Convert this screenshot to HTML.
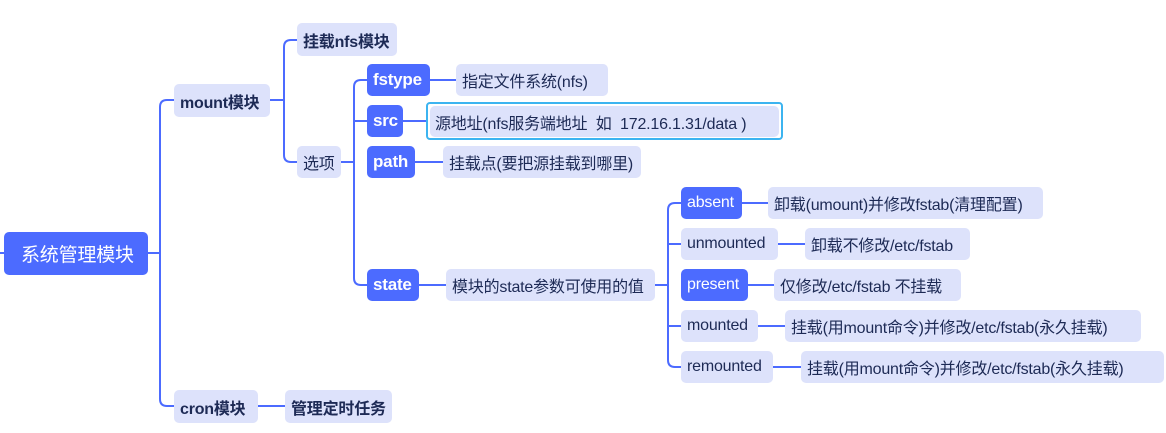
<!DOCTYPE html>
<html><head><meta charset="utf-8"><style>
body{margin:0;width:1166px;height:433px;background:#fff;position:relative;overflow:hidden;font-family:"Liberation Sans","Noto Sans CJK SC",sans-serif}
.n{position:absolute;box-sizing:border-box;border-radius:5px;display:flex;align-items:center;justify-content:flex-start;padding-left:6px;font-size:16px;white-space:nowrap;letter-spacing:-0.2px}
.b{background:#4c6bff;color:#fff;font-weight:bold;font-size:17px}
.l{background:#dde2fb;color:#1d2a55}
.bo{font-weight:bold}
svg{position:absolute;left:0;top:0}
</style></head><body>
<svg width="1166" height="433" fill="none" stroke="#4c6bff" stroke-width="2">
<path d="M0 253H4"/>
<path d="M148 253H160M174 100H167Q160 100 160 107V399Q160 406 167 406H174"/>
<path d="M270 100H284M297 40H291Q284 40 284 47V155Q284 162 291 162H297"/>
<path d="M341 162H354M367 80H361Q354 80 354 87V278Q354 285 361 285H367M354 121H367"/>
<path d="M430 80H456M403 121H426M415 162H443M419 285H446"/>
<path d="M655 285H668M681 203H675Q668 203 668 210V360Q668 367 675 367H681M668 244H681M668 326H681"/>
<path d="M742 203H768M778 244H805M748 285H774M758 326H785M773 367H801"/>
<path d="M258 406H285"/>
</svg>
<div class="n b" style="left:4px;top:232px;width:144px;height:43px;font-size:19px;font-weight:normal;padding-left:17px">系统管理模块</div>
<div class="n l bo" style="left:174px;top:84px;width:96px;height:33px">mount模块</div>
<div class="n l bo" style="left:174px;top:390px;width:84px;height:33px">cron模块</div>
<div class="n l bo" style="left:297px;top:23px;width:100px;height:33px">挂载nfs模块</div>
<div class="n l" style="left:297px;top:146px;width:44px;height:32px">选项</div>
<div class="n b" style="left:367px;top:64px;width:63px;height:32px">fstype</div>
<div class="n b" style="left:367px;top:105px;width:36px;height:32px">src</div>
<div class="n b" style="left:367px;top:146px;width:48px;height:32px">path</div>
<div class="n b" style="left:367px;top:269px;width:52px;height:32px">state</div>
<div class="n l" style="left:456px;top:64px;width:152px;height:32px">指定文件系统(nfs)</div>
<div class="n" style="left:426px;top:102px;width:357px;height:38px;border:2px solid #3cb4f0;border-radius:4px"></div>
<div class="n l" style="left:430px;top:106px;width:349px;height:31px;padding-left:5px">源地址(nfs服务端地址&nbsp;&nbsp;如&nbsp;&nbsp;172.16.1.31/data )</div>
<div class="n l" style="left:443px;top:146px;width:198px;height:32px">挂载点(要把源挂载到哪里)</div>
<div class="n l" style="left:446px;top:269px;width:209px;height:32px">模块的state参数可使用的值</div>
<div class="n b" style="left:681px;top:187px;width:61px;height:32px;font-weight:normal;font-size:16px">absent</div>
<div class="n l" style="left:681px;top:228px;width:97px;height:32px">unmounted</div>
<div class="n b" style="left:681px;top:269px;width:67px;height:32px;font-weight:normal;font-size:16px">present</div>
<div class="n l" style="left:681px;top:310px;width:77px;height:32px">mounted</div>
<div class="n l" style="left:681px;top:351px;width:92px;height:32px">remounted</div>
<div class="n l" style="left:768px;top:187px;width:275px;height:32px">卸载(umount)并修改fstab(清理配置)</div>
<div class="n l" style="left:805px;top:228px;width:165px;height:32px">卸载不修改/etc/fstab</div>
<div class="n l" style="left:774px;top:269px;width:187px;height:32px">仅修改/etc/fstab 不挂载</div>
<div class="n l" style="left:785px;top:310px;width:356px;height:32px">挂载(用mount命令)并修改/etc/fstab(永久挂载)</div>
<div class="n l" style="left:801px;top:351px;width:363px;height:32px">挂载(用mount命令)并修改/etc/fstab(永久挂载)</div>
<div class="n l bo" style="left:285px;top:390px;width:107px;height:33px">管理定时任务</div>
</body></html>
